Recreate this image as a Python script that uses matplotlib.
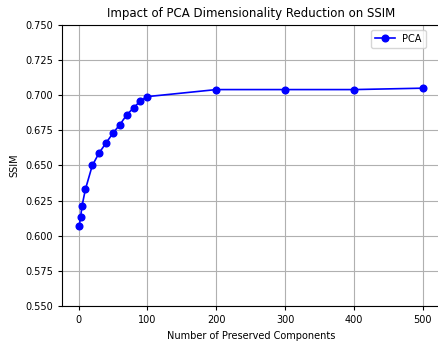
import numpy as np
import matplotlib
matplotlib.use("Agg")
import matplotlib.pyplot as plt

# number of preserved components and the resulting SSIM
components = [1, 3, 5, 10, 20, 30, 40, 50, 60, 70, 80, 90, 100, 200, 300, 400, 500]
ssim = [0.607, 0.613, 0.621, 0.633, 0.650, 0.659, 0.666, 0.673, 0.679, 0.686,
        0.691, 0.696, 0.699, 0.704, 0.704, 0.704, 0.705]

fig = plt.figure(figsize=(4.38, 3.44), dpi=100)
ax = fig.add_axes([0.1416, 0.1105, 0.863, 0.817])

ax.plot(components, ssim, marker='o', color='blue', label='PCA',
        markersize=4.8, linewidth=1.2)
ax.set_title("Impact of PCA Dimensionality Reduction on SSIM", fontsize=8.5)
ax.set_xlabel("Number of Preserved Components", fontsize=7)
ax.set_ylabel("SSIM", fontsize=7)
ax.set_ylim(0.55, 0.75)
ax.set_yticks(np.arange(0.55, 0.7501, 0.025))
ax.tick_params(labelsize=7, length=3)
ax.grid(True)
ax.legend(fontsize=7, loc='upper right', bbox_to_anchor=(0.975, 1.0))

plt.savefig("out.png", dpi=100)
